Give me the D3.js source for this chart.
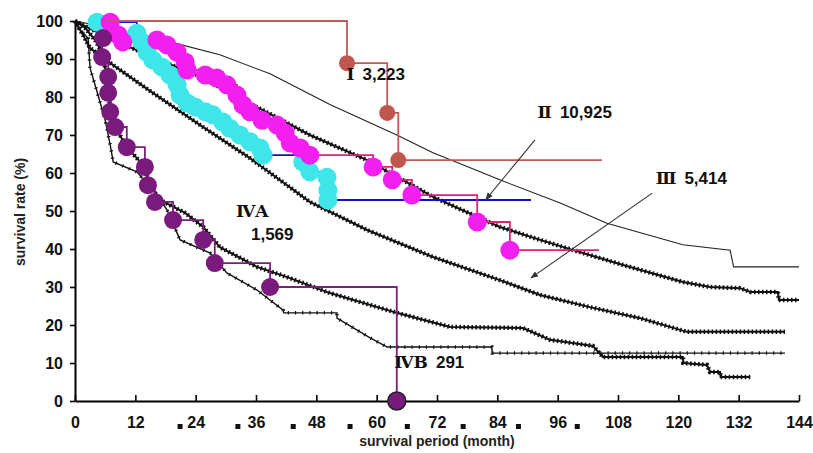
<!DOCTYPE html>
<html>
<head>
<meta charset="utf-8">
<script src="https://cdn.jsdelivr.net/npm/d3@7"></script>
<style>
  body { margin: 0; background: #fff; }
  svg text { font-family: "Liberation Sans", Arial, sans-serif; }
</style>
</head>
<body>
<div class="chart"></div>
<script>
const chart = d3.select('.chart');

const width = 813;
const height = 453;

// black KM curves [month, survival %]
const stage1 = [[0,100],[3,99.2],[9,97.1],[18.9,94.5],[28.8,91.1],[38.8,86.1],[50.7,78],[64,70],[71.2,65.3],
  [84.5,58.2],[96.5,52.1],[105.8,46.8],[120.9,41.1],[130.3,39.7],[131,35.3],[144,35.3]];
const stage2 = [[0,100],[3,98],[6,96],[12,92.5],[18,89],[23.5,86.3],[35.4,77.9],[46.7,70],[58.1,63.4],[71.2,53.7],
  [84.5,45.8],[92.5,42.4],[99.1,39.7],[109,35.8],[120.9,31.3],[126.3,30],[132.3,29.7],[134.3,28.7],[139.8,28.7],[140,26.6],[144,26.6]];
const stage3 = [[0,100],[1.6,96.3],[3,92.9],[5.6,90.3],[7.6,88.4],[14.9,81.6],[24.9,72.6],[34.8,63.9],[46.7,52.4],
  [58.1,45],[71.2,37.9],[84.5,31.8],[92.5,27.9],[102.4,24.7],[112.4,21.8],[121.7,18.2],[141.2,18.2]];
const stage4a = [[0,100],[2,98.2],[4,95],[5.6,91.1],[6.2,85.8],[6.6,81.1],[7.2,76.1],[8,72.1],[10.3,66.8],[13.9,61.6],
  [14.9,56.8],[16.9,52.9],[21.9,49.5],[25.5,45.8],[28.8,40.5],[36.2,35.3],[42.2,32.6],[50.7,28.4],[64,23.2],[74.6,19.5],
  [89.1,19.2],[94.5,16.1],[103,14.5],[105,11.6],[120.9,11.6],[121,10],[125.7,9.5],[126.3,7.6],[128.3,7.6],[128.4,6.3],[134.3,6.3]];
const stage4b = [[0,100],[1,97.6],[2.6,95.5],[3,87.6],[4.4,81.3],[6,73.9],[7,67.4],[7.6,62.9],[12.3,60.3],[16.3,54.2],
  [18.3,50.3],[20.9,42.4],[26.9,38.9],[30.2,33.7],[36.2,29.2],[41.4,23.9],[41.5,23.2],[52.1,23.2],[52.1,21.8],[58.7,16.6],
  [62.1,14.2],[82.9,14.2],[83,12.6],[141.2,12.6]];

// coloured overlay dots [month, survival %]
const brownDots = [[54.1,88.9],[62.1,75.8],[64.3,63.4]];
const brownLine = [[6,100],...brownDots,[104.8,63.4]];
const magentaDots = [[7,99.7],[8.6,96.3],[9.5,94.5],[16.3,95],[18.3,93.7],[20.3,91.8],[21.9,89.2],[22.3,87.1],[25.9,85.8],
  [28.2,85],[30.2,83.2],[32.2,80.5],[33.4,77.9],[34.8,76.1],[37.2,73.9],[40.2,72.6],[41.8,70.5],[42.8,67.9],[44.8,66.6],
  [46.7,64.7],[59.3,61.6],[63.1,58.2],[67,54.2],[80,47.1],[86.5,39.7]];
const magentaLine = [...magentaDots,[104.2,39.7]];
const cyanDots = [[4.4,99.7],[12.3,96.8],[13.3,94.5],[14.3,91.8],[15.5,89.7],[17.3,87.9],[18.9,85.8],[20.3,83.2],[20.9,80.5],
  [22.3,78.4],[23.9,77.4],[25.9,76.1],[27.4,75.3],[29.4,73.4],[30.8,71.8],[32.8,70],[34.8,68.2],[36.8,66.6],[37.4,64.7],
  [45.3,62.9],[46.7,60.3],[50.1,58.9],[50.3,55.5],[50.3,52.9]];
const cyanLine = [...cyanDots,[90.7,52.9]];
const purpleDots = [[5.6,95.5],[5.4,90.5],[6.6,85.3],[6.6,81.1],[7,76.1],[8,72.1],[10.3,66.8],[13.9,61.6],[14.5,56.8],
  [15.9,52.4],[19.5,47.6],[25.5,42.4],[27.8,36.3],[38.8,30],[64,0]];

const xTicks = d3.range(0, 145, 12);
const yTicks = d3.range(0, 101, 10);
const squareMarks = [20.9, 32.4, 43.4, 54.7, 66.1, 77.2, 88.2, 99.9];

// labels: [roman, number, month, %]
const labels = [
  ['Ⅰ', '3,223', 54, 84.5],
  ['Ⅱ', '10,925', 92, 74.5],
  ['Ⅲ', '5,414', 115.5, 57],
  ['ⅣA', '', 32, 48.5],
  ['', '1,569', 35, 42.5],
  ['ⅣB', '291', 63.5, 8.8]
];
const arrows = [
  [[91.5, 68.7], [81.7, 53]],
  [[114.8, 54.7], [90.7, 32.4]]
];

const svg = chart.append('svg')
  .attr('width', width)
  .attr('height', height);

const x = d3.scaleLinear().domain([0, 144]).range([75, 799]);
const y = d3.scaleLinear().domain([0, 100]).range([401, 21]);

const line = d3.line().x(d => x(d[0])).y(d => y(d[1]));
const step = d3.line().x(d => x(d[0])).y(d => y(d[1])).curve(d3.curveStepAfter);

// axes
const yAxis = svg.append('g')
  .attr('transform', 'translate(75,0)')
  .call(d3.axisLeft(y).tickValues(yTicks).tickSize(5).tickSizeOuter(0).tickPadding(7));
const xAxis = svg.append('g')
  .attr('transform', 'translate(0,401)')
  .call(d3.axisBottom(x).tickValues(xTicks).tickSize(-6).tickSizeOuter(0).tickPadding(16));
[xAxis, yAxis].forEach(a => {
  a.select('.domain').attr('stroke-width', 2);
  a.selectAll('line').attr('stroke-width', 1.6);
  a.selectAll('text').style('font-size', '16px').style('font-weight', 'bold').attr('fill', '#111');
});

svg.selectAll('rect.sq').data(squareMarks)
  .enter().append('rect')
  .attr('class', 'sq')
  .attr('x', d => x(d) - 2.5).attr('y', 424)
  .attr('width', 5).attr('height', 5)
  .attr('fill', '#111');

svg.append('text')
  .attr('x', 437).attr('y', 446)
  .attr('text-anchor', 'middle')
  .style('font-size', '14px').style('font-weight', 'bold').attr('fill', '#222')
  .text('survival period (month)');
svg.append('text')
  .attr('transform', 'translate(25,212) rotate(-90)')
  .attr('text-anchor', 'middle')
  .style('font-size', '14px').style('font-weight', 'bold').attr('fill', '#222')
  .text('survival rate (%)');

// black curves
svg.append('path').datum(stage1)
  .attr('d', line).attr('fill', 'none').attr('stroke', '#222').attr('stroke-width', 1.1);

[stage2, stage3, stage4a, stage4b].forEach((s, i) => {
  svg.append('path').datum(s)
    .attr('d', line).attr('fill', 'none').attr('stroke', '#111').attr('stroke-width', i == 3 ? 1.4 : 2);
  svg.append('path').datum(s)
    .attr('d', line).attr('fill', 'none').attr('stroke', '#111')
    .attr('stroke-width', i == 3 ? 3.5 : 4.5)
    .attr('stroke-dasharray', i == 3 ? '1.2,6' : '1.6,2.4');
});

// overlays
svg.append('path').datum(cyanLine)
  .attr('d', step).attr('fill', 'none').attr('stroke', '#1010d0').attr('stroke-width', 1.8);
svg.append('path').datum(magentaLine)
  .attr('d', step).attr('fill', 'none').attr('stroke', '#d9256e').attr('stroke-width', 1.8);
svg.append('path').datum(purpleDots)
  .attr('d', step).attr('fill', 'none').attr('stroke', '#7a1f7a').attr('stroke-width', 1.8);

const dots = (data, color, r) => {
  return svg.append('g').selectAll('circle').data(data)
    .enter().append('circle')
    .attr('cx', d => x(d[0])).attr('cy', d => y(d[1]))
    .attr('r', r).attr('fill', color);
};
dots(cyanDots, '#3ee6ea', 9.5);
dots(magentaDots, '#f31ef0', 9.5);
dots(purpleDots, '#7a1a7c', 9)
  .filter((d, i) => i == purpleDots.length - 1)
  .attr('stroke', '#222').attr('stroke-width', 1.5);

svg.append('path').datum(brownLine)
  .attr('d', step).attr('fill', 'none').attr('stroke', '#c05a55').attr('stroke-width', 1.8);
dots(brownDots, '#c0574f', 8);

// arrows
svg.append('defs').append('marker')
  .attr('id', 'ah').attr('viewBox', '0 0 10 10').attr('refX', 9).attr('refY', 5)
  .attr('markerWidth', 7).attr('markerHeight', 7).attr('orient', 'auto')
  .append('path').attr('d', 'M0,1 L10,5 L0,9 Z').attr('fill', '#333');
svg.selectAll('line.arr').data(arrows)
  .enter().append('line')
  .attr('class', 'arr')
  .attr('x1', d => x(d[0][0])).attr('y1', d => y(d[0][1]))
  .attr('x2', d => x(d[1][0])).attr('y2', d => y(d[1][1]))
  .attr('stroke', '#333').attr('stroke-width', 1.1)
  .attr('marker-end', 'url(#ah)');

// stage labels
labels.forEach(l => {
  const t = svg.append('text')
    .attr('x', x(l[2])).attr('y', y(l[3]))
    .style('font-size', '17px').attr('fill', '#111');
  if (l[0]) t.append('tspan').style('font-family', '"DejaVu Serif", serif').style('font-weight', 'bold').text(l[0]);
  if (l[1]) t.append('tspan').attr('dx', l[0] ? 8 : 0).style('font-weight', 'bold').text(l[1]);
});
</script>
</body>
</html>
